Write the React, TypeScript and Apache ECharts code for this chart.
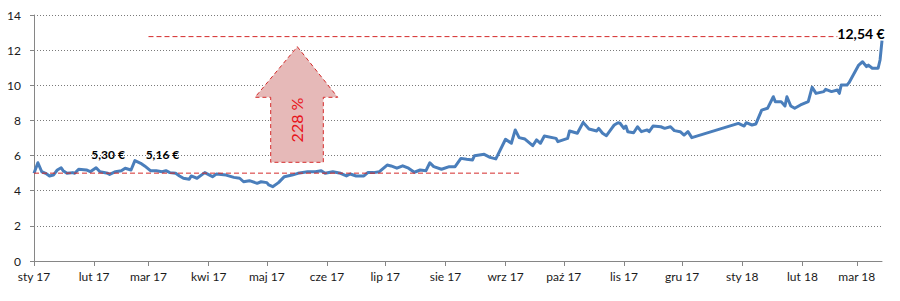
import React, { useEffect, useRef } from "react";
import * as echarts from "echarts";

// Day offsets from 1 Jan 2017
const days = [0,2,4,6,8,10,12,14,15,17,20,21,23,27,29,32,34,38,39,42,45,47,50,52,55,57,60,63,66,68,70,73,75,
77,80,81,84,88,92,94,99,103,106,108,111,115,117,120,121,123,126,129,133,136,141,145,148,150,
154,158,161,163,166,170,172,175,178,182,184,187,190,193,196,199,202,204,206,210,214,217,220,223,226,227,232,235,238,243,246,248,250,253,257,259,261,263,269,270,275,276,280,283,286,290,291,293,295,298,299,301,302,304,305,306,309,311,313,316,317,319,323,325,328,330,333,335,337,339,
363,366,367,370,372,375,378,381,382,385,387,388,390,392,395,399,401,403,407,408,411,414,415,416,419,420,425,427,429,430,432,435,436,437];

const prices = [4.99,5.59,5.08,4.99,4.84,4.89,5.18,5.31,5.14,4.99,5.03,4.99,5.22,5.18,5.08,5.31,5.08,4.99,4.93,5.08,5.14,5.28,5.18,5.71,5.56,5.41,5.14,5.14,5.08,5.14,5.03,4.99,4.84,
4.71,4.65,4.84,4.71,5.03,4.80,4.95,4.89,4.76,4.71,4.51,4.57,4.42,4.51,4.46,4.33,4.23,4.46,4.80,4.89,4.99,5.08,5.08,5.14,4.99,
5.08,4.99,4.84,4.95,4.84,4.84,5.03,5.03,5.08,5.46,5.41,5.28,5.42,5.28,5.05,5.18,5.14,5.59,5.37,5.22,5.37,5.37,5.84,5.79,5.75,5.99,6.07,5.90,5.81,6.93,6.70,7.46,7.02,6.94,6.56,6.89,6.70,7.11,6.98,6.79,6.98,7.40,7.27,7.89,7.51,7.40,7.55,7.27,7.13,7.59,7.74,7.87,7.84,7.55,7.68,7.36,7.30,7.64,7.36,7.46,7.36,7.68,7.64,7.55,7.64,7.42,7.36,7.17,7.36,7.02,
7.83,7.68,7.87,7.74,7.80,8.59,8.69,9.35,9.07,9.07,8.82,9.35,8.82,8.69,8.88,9.07,9.89,9.54,9.64,9.77,9.64,9.73,9.54,10.02,10.02,10.15,11.15,11.34,11.06,11.15,10.97,10.97,11.44,12.54];

const monthLabels = ["sty 17","lut 17","mar 17","kwi 17","maj 17","cze 17","lip 17","sie 17","wrz 17","paź 17","lis 17","gru 17","sty 18","lut 18","mar 18"];
const yTicks = [0, 2, 4, 6, 8, 10, 12, 14];

// price labels: [day, text]
const priceLabels: [number, string][] = [[32, "5,30 €"], [60, "5,16 €"], [437, "12,54 €"]];
// reference lines: [startDay, endDay, value]
const baseLine = [0, 251, 5.0];
const topLine = [59, 414, 12.77];
const growthText = "228 %";
const xMax = 437;

const DAY = 86400000;
const monthStarts = monthLabels.map((_, i) => Math.round((Date.UTC(2017, i, 1) - Date.UTC(2017, 0, 1)) / DAY));

export default function App() {
  const ref = useRef<HTMLDivElement>(null);
  useEffect(() => {
    if (!ref.current) return;
    const chart = echarts.init(ref.current, null, { renderer: "svg" });
    const font = "Lato, 'Open Sans', sans-serif";
    const red = "#D42A2A";
    const lineData = days.map((d, i) => [d, prices[i]]);
    const labelOffsets: Record<number, number[]> = { 32: [12, -13], 60: [12, -16], 437: [-21, -7] };
    const labelSizes: Record<number, number> = { 32: 12, 60: 12, 437: 14 };
    const refSeries = (l: number[], z: number) => ({
      type: "line",
      data: [[l[0], l[2]], [l[1], l[2]]],
      symbol: "none",
      silent: true,
      z,
      lineStyle: { color: red, type: [5, 3], width: 1 },
      emphasis: { disabled: true },
    });
    chart.setOption({
      animation: false,
      grid: { left: 34, right: 18, top: 15, bottom: 40 },
      xAxis: {
        type: "value",
        min: 0,
        max: xMax,
        splitLine: { show: false },
        axisLine: { show: true, lineStyle: { color: "#868686", width: 1 } },
        axisTick: { show: true, length: 5, lineStyle: { color: "#868686" }, customValues: monthStarts },
        axisLabel: {
          customValues: monthStarts,
          margin: 9,
          color: "#1a1a1a",
          fontFamily: font,
          fontSize: 12,
          formatter: (v: number) => {
            const i = monthStarts.indexOf(Math.round(v));
            return i >= 0 ? monthLabels[i] : "";
          },
        },
      },
      yAxis: {
        type: "value",
        min: yTicks[0],
        max: yTicks[yTicks.length - 1],
        interval: 2,
        axisLine: { show: true, lineStyle: { color: "#868686", width: 1 } },
        axisTick: { show: true, length: 4, lineStyle: { color: "#868686" } },
        splitLine: { show: true, lineStyle: { color: "#7a7a7a", type: [1, 2], width: 1 } },
        axisLabel: { margin: 13, color: "#1a1a1a", fontFamily: font, fontSize: 12 },
      },
      series: [
        {
          type: "line",
          data: lineData,
          showSymbol: false,
          symbol: "none",
          lineStyle: { color: "#4A7EBB", width: 3, join: "round" },
          z: 3,
          markPoint: {
            silent: true,
            symbol: "circle",
            symbolSize: 0,
            data: priceLabels.map(([d, t]) => ({
              coord: [d, prices[days.indexOf(d)]],
              label: {
                show: true,
                position: "inside",
                offset: labelOffsets[d],
                formatter: t,
                fontFamily: font,
                fontWeight: "bold",
                fontSize: labelSizes[d],
                color: "#000",
              },
            })),
          },
        },
        refSeries(baseLine, 4),
        refSeries(topLine, 4),
      ],
      graphic: [
        {
          type: "polygon",
          z: 1,
          shape: {
            points: [
              [297.3, 46.7], [337.7, 97.3], [323.3, 97.3], [323.3, 162.3],
              [270.7, 162.3], [270.7, 97.3], [255, 97.3],
            ],
          },
          style: { fill: "#E6B9B8", stroke: red, lineWidth: 1, lineDash: [4, 3] },
        },
        {
          type: "text",
          z: 2,
          x: 296.7,
          y: 120,
          rotation: Math.PI / 2,
          style: {
            text: growthText,
            fill: "#E8141B",
            font: `16px ${font}`,
            align: "center",
            verticalAlign: "middle",
          },
        },
      ],
    });
    return () => chart.dispose();
  }, []);
  return <div ref={ref} style={{ position: "fixed", left: 0, top: 0, width: 900, height: 301, background: "#fff" }} />;
}
